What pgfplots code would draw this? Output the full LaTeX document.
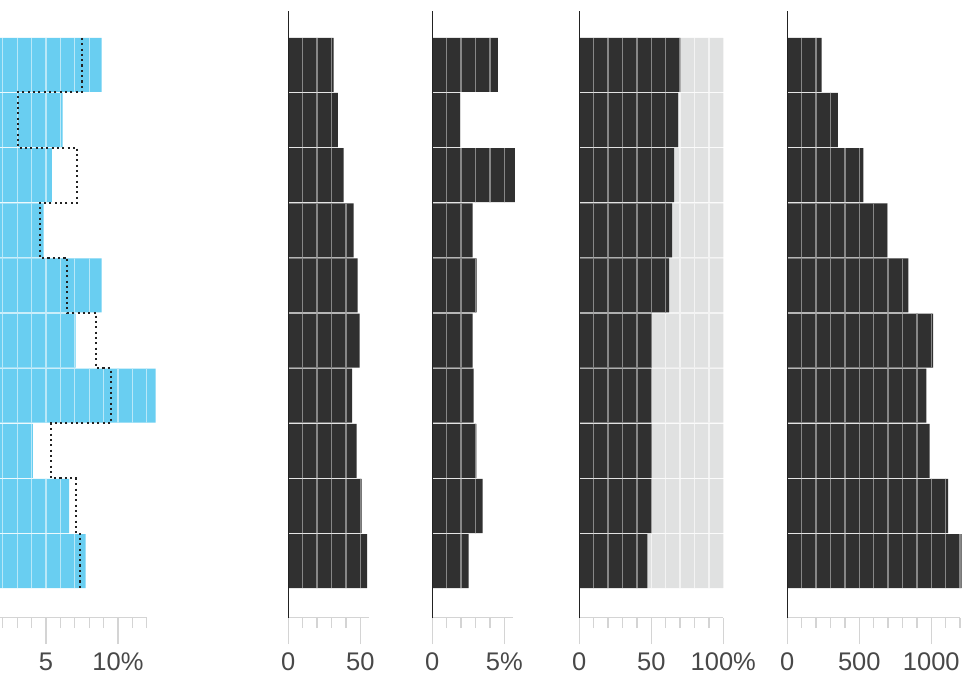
\documentclass[border=0pt]{standalone}
\usepackage{fontspec}
\setmainfont{Liberation Sans}
\usepackage{pgfplots}
\pgfplotsset{compat=1.18}
\definecolor{barblue}{RGB}{105,206,241}
\definecolor{blueline}{RGB}{185,232,248}
\definecolor{bardark}{RGB}{48,48,48}
\definecolor{darkline}{RGB}{135,135,135}
\definecolor{barlight}{RGB}{224,225,225}
\definecolor{lightline}{RGB}{243,243,243}
\definecolor{tickgray}{RGB}{212,212,212}
\definecolor{labelgray}{RGB}{72,72,72}
\definecolor{axisdark}{RGB}{34,34,34}
\pgfplotsset{
  panel/.style={
    scale only axis,
    height=606.7pt,
    ymin=-0.026, ymax=10.977,
    anchor=south west,
    clip=false,
    bar width=0.98, bar shift=0pt,
    axis x line*=bottom, axis y line*=left,
    x axis line style={tickgray, line width=1.3pt, -},
    y axis line style={axisdark, line width=1.1pt, -},
    ytick=\empty,
    tick align=outside,
    major tick length=26.5pt,
    minor tick length=10.5pt,
    tick style={tickgray, line width=1.3pt},
    xticklabel style={font=\fontsize{25.5pt}{30pt}\selectfont, text=labelgray, anchor=base, inner sep=0pt, yshift=-26.5pt},
    axis on top,
  },
  gridlines/.style 2 args={path picture={
    \pgfsetlinewidth{1.3pt}\pgfsetstrokecolor{#1}
    \foreach \k in {1,...,#2}{
      \pgfpathmoveto{\pgfpointadd{\pgfpointanchor{path picture bounding box}{south west}}{\pgfpoint{\k*14.4pt}{0pt}}}
      \pgfpathlineto{\pgfpointadd{\pgfpointanchor{path picture bounding box}{north west}}{\pgfpoint{\k*14.4pt}{0pt}}}
      \pgfusepath{stroke}
    }}},
}
\begin{document}
\begin{tikzpicture}
\useasboundingbox (0pt,0pt) rectangle (963pt,674pt);
\clip (0pt,0pt) rectangle (963pt,674pt);
% Panel 1
\begin{axis}[panel, at={(-26pt,56.3pt)}, width=172.8pt, xmin=0, xmax=12,
  xtick={0,5,10}, xticklabels={,5,10\%}, minor xtick={1,2,...,12}]
\addplot[xbar, fill=barblue, draw=none, gridlines={blueline}{13}] coordinates {
 (8.87,10) (6.16,9) (5.40,8) (4.84,7) (8.87,6) (7.06,5) (12.62,4) (4.08,3) (6.60,2) (7.76,1)};
\addplot[sharp plot, draw=axisdark, line width=2.1pt, dash pattern=on 2.1pt off 3.23pt] coordinates {
 (7.48,10.49) (7.48,9.5) (3.03,9.5) (3.03,8.5) (7.17,8.5) (7.17,7.5) (4.56,7.5) (4.56,6.5)
 (6.48,6.5) (6.48,5.5) (8.49,5.5) (8.49,4.5) (9.49,4.5) (9.49,3.5) (5.35,3.5) (5.35,2.5)
 (7.08,2.5) (7.08,1.5) (7.36,1.5) (7.36,0.51)};
\end{axis}
% Panel 2
\begin{axis}[panel, at={(288.3pt,56.3pt)}, width=80.64pt, xmin=0, xmax=56,
  xtick={0,50}, xticklabels={0,50}, minor xtick={10,20,...,50}]
\addplot[xbar, fill=bardark, draw=none, gridlines={darkline}{5}] coordinates {
 (31.5,10) (34.5,9) (38.5,8) (45.4,7) (48.2,6) (49.6,5) (44.4,4) (47.5,3) (51.0,2) (54.7,1)};
\end{axis}
% Panel 3
\begin{axis}[panel, at={(432.3pt,56.3pt)}, width=80.64pt, xmin=0, xmax=5.6,
  xtick={0,5}, xticklabels={0,5\%}, minor xtick={1,2,...,5}]
\addplot[xbar, fill=bardark, draw=none, gridlines={darkline}{5}] coordinates {
 (4.56,10) (1.94,9) (5.74,8) (2.80,7) (3.08,6) (2.80,5) (2.87,4) (3.06,3) (3.50,2) (2.53,1)};
\end{axis}
% Panel 4
\begin{axis}[panel, at={(579.3pt,56.3pt)}, width=144pt, xmin=0, xmax=100,
  xtick={0,50,100}, xticklabels={0,50,100\%}, minor xtick={10,20,...,100}]
\addplot[xbar, fill=barlight, draw=none, gridlines={lightline}{9}] coordinates {
 (100,10) (100,9) (100,8) (100,7) (100,6) (100,5) (100,4) (100,3) (100,2) (100,1)};
\addplot[xbar, fill=bardark, draw=none, gridlines={darkline}{7}] coordinates {
 (70.2,10) (68.6,9) (65.8,8) (64.4,7) (62.4,6) (50.3,5) (50.0,4) (50.3,3) (50.0,2) (47.2,1)};
\end{axis}
% Panel 5
\begin{axis}[panel, at={(787.3pt,56.3pt)}, width=172.8pt, xmin=0, xmax=1200,
  xtick={0,500,1000}, xticklabels={0,500,1000}, minor xtick={100,200,...,1200}]
\addplot[xbar, fill=bardark, draw=none, gridlines={darkline}{12}] coordinates {
 (238,10) (351,9) (529,8) (695,7) (840,6) (1013,5) (965,4) (988,3) (1117,2) (1210,1)};
\end{axis}
\end{tikzpicture}
\end{document}
